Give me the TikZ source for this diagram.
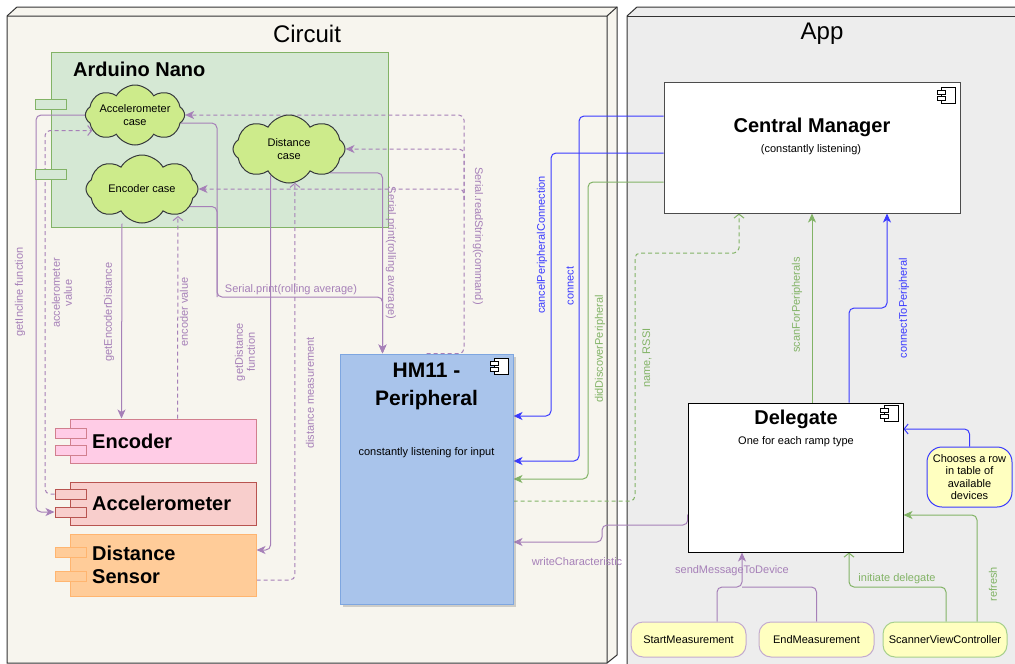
\documentclass[tikz,border=0pt]{standalone}
\usepackage{fontspec}
\setmainfont{Liberation Sans}
\usetikzlibrary{arrows.meta,shapes.symbols,calc,shadows}
\pgfdeclarelayer{bg}
\pgfdeclarelayer{wires}
\pgfsetlayers{bg,wires,main}
\definecolor{purp}{HTML}{A680B8}
\definecolor{blu}{HTML}{3A3AFF}
\definecolor{grn}{HTML}{82B366}
\definecolor{circfill}{HTML}{F7F5EE}
\definecolor{appfill}{HTML}{EDEDED}
\definecolor{nanofill}{HTML}{D5E8D4}
\definecolor{cloudfill}{HTML}{CDEB8B}
\definecolor{clouddraw}{HTML}{36393D}
\definecolor{encfill}{HTML}{FFCCE6}
\definecolor{encdraw}{HTML}{D17F8E}
\definecolor{accfill}{HTML}{F8CECC}
\definecolor{accdraw}{HTML}{B85450}
\definecolor{distfill}{HTML}{FFCC99}
\definecolor{distdraw}{HTML}{FFB570}
\definecolor{hmfill}{HTML}{A9C4EB}
\definecolor{hmdraw}{HTML}{7EA6E0}
\definecolor{yel}{HTML}{FFFFC0}
\definecolor{ltpurp}{HTML}{C3ABD0}
\definecolor{ltgrn}{HTML}{A7D08C}

\begin{document}
\begin{tikzpicture}[x=1pt,y=-1pt,
  pkg/.style={draw=black!80,line width=1pt},
  box/.style={draw,line width=1pt,inner sep=0pt},
  cloudnode/.style={cloud,cloud puffs=8,cloud puff arc=120,cloud ignores aspect,
    draw=clouddraw,fill=cloudfill,line width=1pt,inner sep=0pt,align=center,
    font=\fontsize{11}{13}\selectfont},
  port/.style={draw,line width=1pt,minimum width=31pt,minimum height=10pt,inner sep=0pt},
  big/.style={font=\bfseries\fontsize{20}{23}\selectfont,inner sep=0pt},
  small/.style={font=\fontsize{11}{12.5}\selectfont,inner sep=0pt,align=center},
  lbl/.style={font=\fontsize{11}{12}\selectfont,inner sep=0pt,align=center},
  wire/.style={line width=1pt,rounded corners=5pt},
  dashline/.style={wire,dash pattern=on 4pt off 3pt},
  solidhead/.style={-{Stealth[length=9pt,width=8pt,inset=2.5pt]}},
  openhead/.style={-{Straight Barb[length=4pt,width=10pt]}},
  yelbox/.style={draw,fill=yel,line width=1pt,rounded corners=12pt,
    minimum height=35pt,inner sep=0pt,font=\fontsize{11}{13}\selectfont},
  compicon/.pic={
    \draw[line width=0.8pt,fill=white] (0,0) rectangle (14,16);
    \draw[line width=0.8pt,fill=white] (-4,3) rectangle (4,7) (-4,9) rectangle (4,13);}
]
\useasboundingbox (0,0) rectangle (1015,664);

% the two packages
\begin{pgfonlayer}{bg}
\fill[white] (0,0) rectangle (1015,664);
\draw[pkg,fill=circfill] (7,16) -- (17,7) -- (617,7) -- (617,655) -- (607,663) -- (7,663) -- cycle;
\draw[pkg] (7,16) -- (607,16) -- (617,7) (607,16) -- (607,663);
\draw[pkg,fill=appfill] (627,680) -- (627,16) -- (637,7) -- (1030,7) -- (1030,680);
\draw[pkg] (627,16) -- (1030,16);
\node[box,draw=grn,fill=nanofill,minimum width=337pt,minimum height=175pt] (nano) at (219.5,139.5) {};
\end{pgfonlayer}

\node[font=\fontsize{24}{28}\selectfont] (circuit) at (307,34) {Circuit};
\node[font=\fontsize{24}{28}\selectfont] (app) at (822,34) {App};
\node[big,anchor=west] (nanotext) at (73,69) {Arduino Nano};
\node[port,draw=grn,fill=nanofill] (nanopa) at (51,104) {};
\node[port,draw=grn,fill=nanofill] (nanopb) at (51,174.5) {};

% cases
\node[cloudnode,minimum width=97pt,minimum height=60pt] (acccase) at (135,115) {Accelerometer\\case};
\node[cloudnode,minimum width=112pt,minimum height=68pt] (enccase) at (142,189) {Encoder case};
\node[cloudnode,minimum width=112pt,minimum height=68pt] (distcase) at (289,149) {Distance\\case};

% parts
\node[box,draw=encdraw,fill=encfill,minimum width=186pt,minimum height=44pt] (enc) at (163,441) {};
\node[port,draw=encdraw,fill=encfill] (encpa) at (70.5,433) {};
\node[port,draw=encdraw,fill=encfill] (encpb) at (70.5,450.5) {};
\node[big,anchor=west] (enctext) at (92,441) {Encoder};

\node[box,draw=accdraw,fill=accfill,minimum width=186pt,minimum height=43pt] (acc) at (163,503.5) {};
\node[port,draw=accdraw,fill=accfill] (accpa) at (70.5,494) {};
\node[port,draw=accdraw,fill=accfill] (accpb) at (70.5,512) {};
\node[big,anchor=west] (acctext) at (92,503.5) {Accelerometer};

\node[box,draw=distdraw,fill=distfill,minimum width=186pt,minimum height=62pt] (dist) at (163,565) {};
\node[port,draw=distdraw,fill=distfill] (distpa) at (70.5,552) {};
\node[port,draw=distdraw,fill=distfill] (distpb) at (70.5,576.5) {};
\node[big,anchor=west,align=left] (disttext) at (92,565) {Distance\\Sensor};

\node[box,draw=hmdraw,fill=hmfill,minimum width=173pt,minimum height=250pt,
  drop shadow={opacity=0.35,shadow xshift=3pt,shadow yshift=-3pt}] (hm) at (426.5,479) {};
\node[font=\bfseries\fontsize{21}{28}\selectfont,align=center] (hmtext) at (426.5,386) {HM11 -\\Peripheral};
\node[small] (hmsub) at (426.5,453) {constantly listening for input};
\pic at (494,358) {compicon};

% app side
\node[box,draw=black!70,fill=white,minimum width=296pt,minimum height=131pt] (cm) at (812,147.5) {};
\node[font=\bfseries\fontsize{20}{24}\selectfont] (cmtext) at (812,127) {Central Manager};
\node[small] (cmsub) at (811,150) {(constantly listening)};
\pic at (941,87) {compicon};

\node[box,draw=black,fill=white,minimum width=215pt,minimum height=149pt] (dlg) at (795.5,477.5) {};
\node[font=\bfseries\fontsize{20}{24}\selectfont] (dlgtext) at (796,419) {Delegate};
\node[small] (dlgsub) at (796,442) {One for each ramp type};
\pic at (884,405) {compicon};

\node[box,draw=blu,fill=yel,rounded corners=15pt,minimum width=85pt,minimum height=60pt,
  font=\fontsize{11}{12.3}\selectfont,align=center] (choose) at (969.5,477) {Chooses a row\\in table of\\available\\devices};
\node[yelbox,draw=ltpurp,minimum width=115pt] (startm) at (688.5,639.5) {StartMeasurement};
\node[yelbox,draw=ltpurp,minimum width=115pt] (endm) at (816.5,639.5) {EndMeasurement};
\node[yelbox,draw=ltgrn,minimum width=124pt] (svc) at (945,639.5) {ScannerViewController};

% connectors
\begin{pgfonlayer}{wires}
\draw[wire,purp,solidhead] (acccase.west) -- (36,115) |- (accpb.west);
\draw[dashline,purp,openhead] (accpa.west) -- (45,494) |- (acccase.200);
\draw[wire,purp,solidhead] (enccase.south -| 122,0) -- ($(enc.north west)+(52,0)$);
\draw[dashline,purp,openhead] ($(enc.north west)+(108,0)$) -- (178,216);
\draw[wire,purp] (enccase.340) -| (217,297);
\draw[wire,purp,solidhead] (acccase.350) -| (217,297) -| ($(hm.north west)+(43,0)$);
\draw[wire,purp,solidhead] (distcase.330) -| ($(hm.north west)+(43,0)$);
\draw[dashline,purp,solidhead] ($(hm.north west)+(87,0)$) -| (464,200) |- (acccase.east);
\draw[dashline,purp,solidhead] (464,200) |- (distcase.east);
\draw[dashline,purp,solidhead] (464,200) |- (enccase.east);
\draw[wire,purp,solidhead] (distcase.235) |- ($(dist.east)+(0,-15)$);
\draw[dashline,purp,openhead] ($(dist.east)+(0,15)$) -| (distcase.280);

\draw[wire,blu,solidhead] ($(cm.west)+(0,5.5)$) -- (551,153) |- ($(hm.east)+(0,-63)$);
\draw[wire,blu,solidhead] ($(cm.west)+(0,-31.5)$) -- (579,116) |- ($(hm.east)+(0,-18)$);
\draw[wire,grn,solidhead] ($(cm.west)+(0,34.5)$) -- (588,182) |- (hm.east);
\draw[dashline,grn,openhead] ($(hm.east)+(0,22)$) -- (635,501) -- (635,253) -| ($(cm.south)+(-73,0)$);
\draw[wire,grn,solidhead] (cm.south |- dlg.north) -- (cm.south);
\draw[wire,blu,solidhead] ($(dlg.north)+(53.5,0)$) -- (849,308) -| ($(cm.south)+(75,0)$);
\draw[wire,purp,solidhead] ($(dlg.west)+(0,37)$) -- (688,525) -- (602,525) |- ($(hm.east)+(0,63)$);
\draw[wire,purp,solidhead] ($(startm.north)+(28.5,0)$) |- (742,587) -- ($(dlg.south)+(-53.5,0)$);
\draw[wire,purp] (endm.north) |- (742,587);
\draw[wire,grn,openhead] ($(svc.north)+(1,0)$) |- (849,587) -- ($(dlg.south)+(53.5,0)$);
\draw[wire,grn,solidhead] ($(svc.north)+(32,0)$) |- ($(dlg.east)+(0,37.5)$);
\draw[wire,blu,openhead] (choose.north) |- ($(dlg.east)+(0,-48.5)$);
\end{pgfonlayer}

% labels
\node[lbl,purp,rotate=90] (lincline) at (20,292) {getIncline function};
\node[lbl,purp,rotate=90] (laccval) at (62,293) {accelerometer\\value};
\node[lbl,purp,rotate=90] (lencdist) at (109,312) {getEncoderDistance};
\node[lbl,purp,rotate=90] (lencval) at (184,312) {encoder value};
\node[lbl,purp,rotate=90] (lgetdist) at (245,352) {getDistance\\function};
\node[lbl,purp,rotate=90] (ldistm) at (310,393) {distance measurement};
\node[lbl,purp] (lprint) at (291,290) {Serial.print(rolling average)};
\node[lbl,purp,rotate=-90] (lprintb) at (391,253) {Serial.print(rolling average)};
\node[lbl,purp,rotate=-90] (lread) at (478,236) {Serial.readString(command)};
\node[lbl,blu,rotate=90] (lcancel) at (542,245) {cancelPeripheralConnection};
\node[lbl,blu,rotate=90] (lconnect) at (570,286) {connect};
\node[lbl,grn,rotate=90] (ldisc) at (600,349) {didDiscoverPeripheral};
\node[lbl,grn,rotate=90] (lrssi) at (647,358) {name, RSSI};
\node[lbl,grn,rotate=90] (lscan) at (797,305) {scanForPeripherals};
\node[lbl,blu,rotate=90] (lconto) at (904,308) {connectToPeripheral};
\node[lbl,purp] (lwrite) at (577,562) {writeCharacteristic};
\node[lbl,purp] (lsend) at (732,571) {sendMessageToDevice};
\node[lbl,grn] (linit) at (897,579) {initiate delegate};
\node[lbl,grn,rotate=90] (lrefresh) at (993,584) {refresh};
\end{tikzpicture}
\end{document}
